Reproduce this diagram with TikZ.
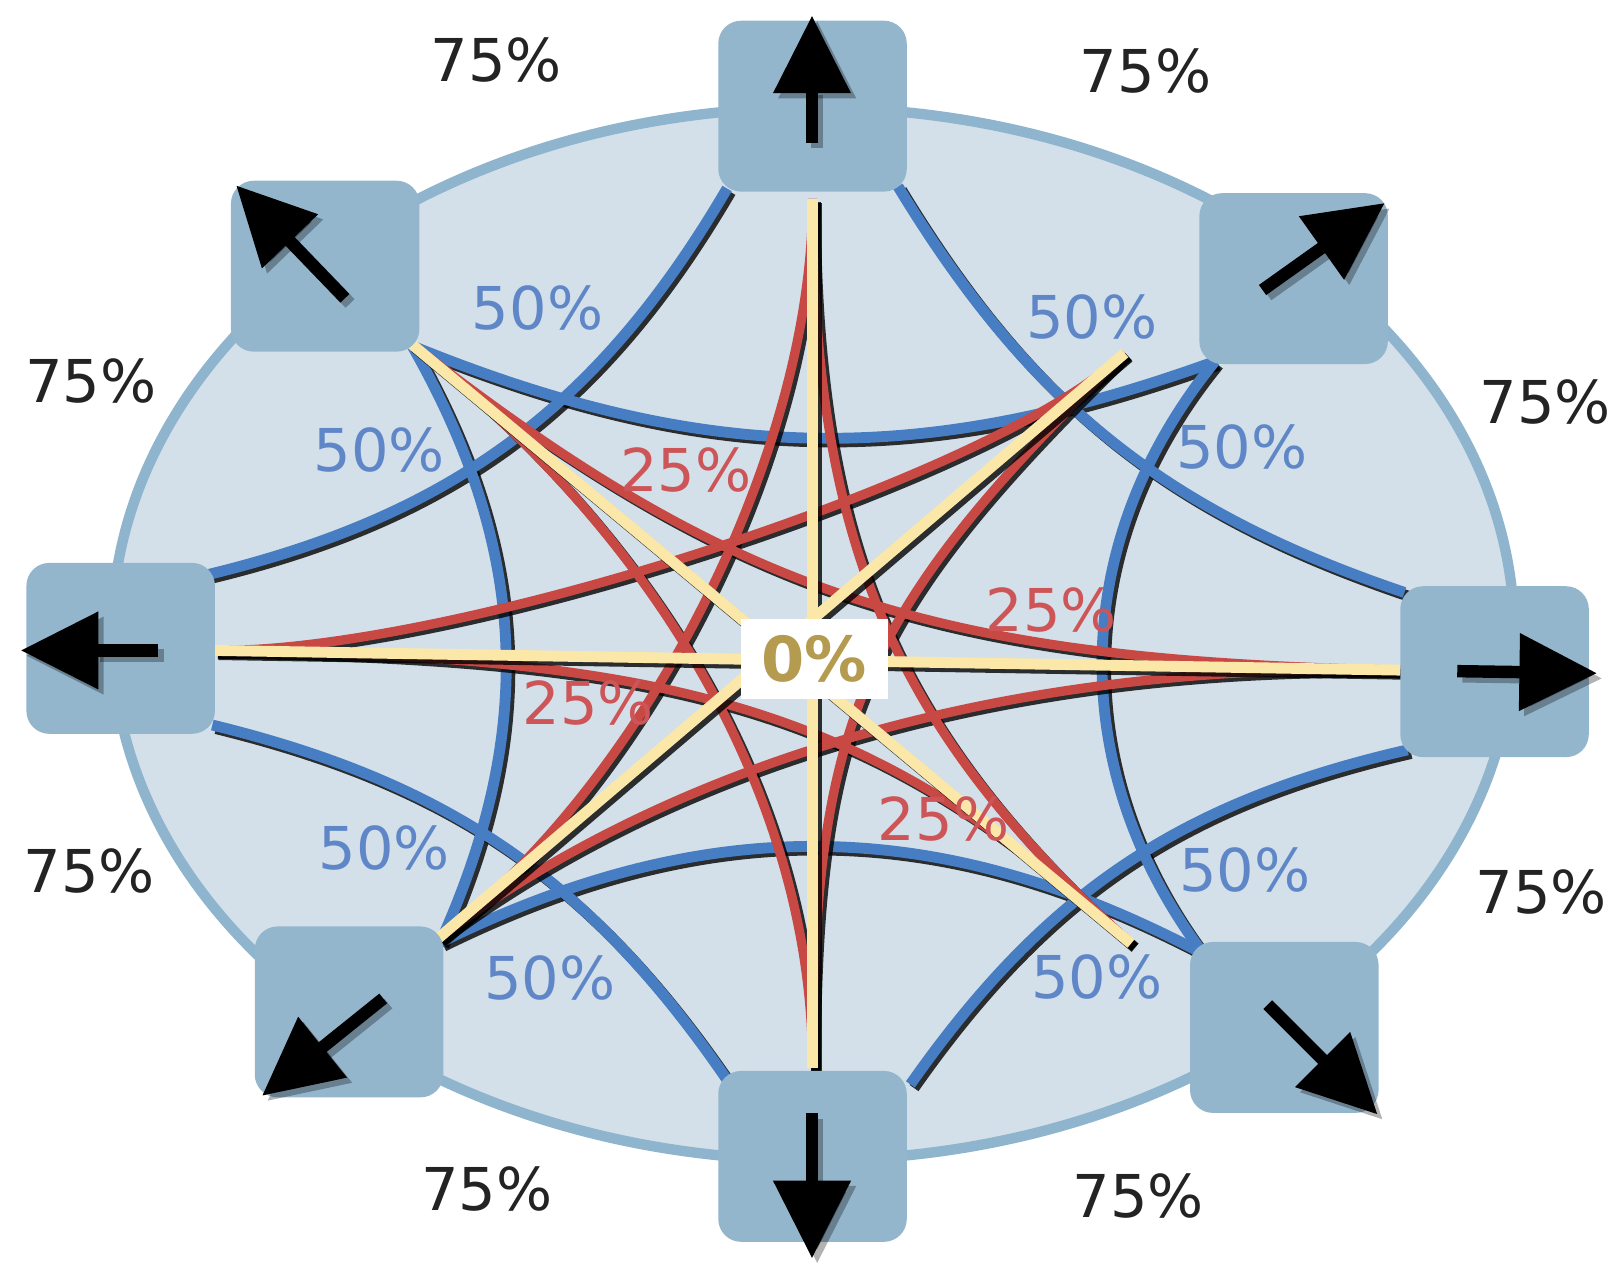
\documentclass[tikz,border=0pt]{standalone}
\usepackage{fontspec}
\setmainfont{DejaVu Sans}
\usetikzlibrary{arrows.meta,calc}
\definecolor{boxc}{RGB}{148,182,205}
\definecolor{ellfill}{RGB}{211,224,233}
\definecolor{elldraw}{RGB}{143,180,206}
\definecolor{bluec}{RGB}{70,125,195}
\definecolor{redc}{RGB}{200,72,68}
\definecolor{yelc}{RGB}{251,232,168}
\definecolor{bluetxt}{RGB}{95,135,200}
\definecolor{redtxt}{RGB}{205,85,88}
\definecolor{goldtxt}{RGB}{180,155,80}
\definecolor{darktxt}{RGB}{35,35,35}
\newcommand\bluecurves[1]{%
  \draw[#1] (bNW) to[bend right=21] (bNE);
  \draw[#1] (bNE) to[bend right=38] (bSE);
  \draw[#1] (bSE) to[bend right=27] (bSW);
  \draw[#1] (bSW) to[bend right=27] (bNW);
  \draw[#1] (bWT) to[bend right=23] (bNL);
  \draw[#1] (bNR) to[bend right=20] (bET);
  \draw[#1] (bEB) to[bend right=21] (bSR);
  \draw[#1] (bSL) to[bend right=21] (bWB);
}
\newcommand\redcurves[1]{%
  \foreach \a/\b/\t in {rN/rSE/0.75, rN/rSW/0.55, rNE/rS/0.85, rNE/rW/0.4,
                        rE/rNW/0.8, rE/rSW/0.65, rSE/rW/0.8, rS/rNW/0.63}
    \draw[#1] (\a) .. controls ($(\a)!\t!(ctr)$) and ($(\b)!\t!(ctr)$) .. (\b);
}
\newcommand\yellowspokes[1]{%
  \draw[#1] (rN) -- (rS);
  \draw[#1] (rW) -- (rE);
  \draw[#1] (rNW) -- (rSE);
  \draw[#1] (rNE) -- (rSW);
}
\begin{document}
\begin{tikzpicture}[x=1pt,y=1pt,
  shadowline/.style={draw=black, opacity=0.8},
  blueline/.style={draw=bluec, line width=10.5pt},
  redline/.style={draw=redc, line width=9pt},
  yelline/.style={draw=yelc, line width=10.5pt},
  dirbox/.style={rectangle, rounded corners=22pt, fill=boxc, minimum width=182pt, minimum height=165pt, inner sep=0pt},
  dirarrow/.style={line width=12pt, -{Triangle[length=75pt,width=72pt]}, draw=black},
  arrshadow/.style={line width=12pt, -{Triangle[length=75pt,width=72pt]}, draw=black, opacity=0.3, transform canvas={shift={(5pt,-5pt)}}},
  lbl/.style={font=\fontsize{57}{60}\selectfont, inner sep=0pt},
  lblA/.style={lbl, text=darktxt},
  lblB/.style={lbl, text=bluetxt},
  lblR/.style={lbl, text=redtxt}
]
\fill[white] (0,-1235) rectangle (1568,0);
\useasboundingbox (0,-1235) rectangle (1568,0);

% ellipse (75%)
\coordinate (ell) at (785,-612);
\filldraw[fill=ellfill, draw=elldraw, line width=10pt] (ell) ellipse [x radius=677, y radius=508];

% anchors
\coordinate (ctr) at (786,-635);
\coordinate (rN) at (784.5,-192);
\coordinate (rNE) at (1086,-341);
\coordinate (rE) at (1352,-647);
\coordinate (rSE) at (1092,-911);
\coordinate (rS) at (784.5,-1031);
\coordinate (rSW) at (423,-906);
\coordinate (rW) at (207,-628);
\coordinate (rNW) at (396.5,-331.5);

\coordinate (bNL) at (702,-182);
\coordinate (bNR) at (867,-180);
\coordinate (bNE) at (1173,-349);
\coordinate (bET) at (1356,-572);
\coordinate (bEB) at (1359,-724);
\coordinate (bSE) at (1162,-921);
\coordinate (bSR) at (879,-1047);
\coordinate (bSL) at (705,-1047);
\coordinate (bSW) at (425,-910);
\coordinate (bWB) at (205,-700);
\coordinate (bWT) at (200,-555);
\coordinate (bNW) at (398,-334);

% 50% curves
\begin{scope}[transform canvas={shift={(3.5pt,-3.5pt)}}]
  \bluecurves{shadowline, line width=10.5pt}
\end{scope}
\bluecurves{blueline}

% 25% curves
\begin{scope}[transform canvas={shift={(3.5pt,-3.5pt)}}]
  \redcurves{shadowline, line width=9pt}
\end{scope}
\redcurves{redline}

% 0% spokes
\begin{scope}[transform canvas={shift={(4pt,-4pt)}}]
  \yellowspokes{shadowline, line width=10.5pt}
\end{scope}
\yellowspokes{yelline}

% direction boxes
\node[dirbox] (boxN) at (784.5,-102.5) {};
\node[dirbox] (boxNE) at (1249,-269) {};
\node[dirbox] (boxE) at (1443,-648.5) {};
\node[dirbox] (boxSE) at (1240,-992) {};
\node[dirbox] (boxS) at (784.5,-1116.5) {};
\node[dirbox] (boxSW) at (337,-977) {};
\node[dirbox] (boxW) at (116.5,-626) {};
\node[dirbox] (boxNW) at (314,-257) {};

% arrows
\coordinate (aN1) at (784,-138);   \coordinate (aN2) at (784,-15);
\coordinate (aNE1) at (1219,-280); \coordinate (aNE2) at (1337,-196);
\coordinate (aE1) at (1407,-648);  \coordinate (aE2) at (1542,-650);
\coordinate (aSE1) at (1224,-970); \coordinate (aSE2) at (1330,-1076);
\coordinate (aS1) at (784,-1075);  \coordinate (aS2) at (784,-1215);
\coordinate (aSW1) at (370,-964);  \coordinate (aSW2) at (253,-1058);
\coordinate (aW1) at (153,-628);   \coordinate (aW2) at (20,-628);
\coordinate (aNW1) at (333,-288);  \coordinate (aNW2) at (228,-179);
\foreach \d in {N,NE,E,SE,S,SW,W,NW}{
  \draw[arrshadow] (a\d1) -- (a\d2);
  \draw[dirarrow] (a\d1) -- (a\d2);
}

% labels 75%
\node[lblA] (t75a) at (479,-58) {75\%};
\node[lblA] (t75b) at (1106,-69) {75\%};
\node[lblA] (t75c) at (87.5,-368) {75\%};
\node[lblA] (t75d) at (1492,-388) {75\%};
\node[lblA] (t75e) at (86,-841) {75\%};
\node[lblA] (t75f) at (1488,-861) {75\%};
\node[lblA] (t75g) at (470,-1148) {75\%};
\node[lblA] (t75h) at (1099,-1155) {75\%};

% labels 50%
\node[lblB] (t50a) at (519,-297) {50\%};
\node[lblB] (t50b) at (366,-434) {50\%};
\node[lblB] (t50c) at (1054,-306) {50\%};
\node[lblB] (t50d) at (1199,-432) {50\%};
\node[lblB] (t50e) at (371,-819) {50\%};
\node[lblB] (t50f) at (531,-944) {50\%};
\node[lblB] (t50g) at (1202,-840) {50\%};
\node[lblB] (t50h) at (1059,-943) {50\%};

% labels 25%
\node[lblR] (t25a) at (662,-454) {25\%};
\node[lblR] (t25b) at (1015,-589) {25\%};
\node[lblR] (t25c) at (568,-679) {25\%};
\node[lblR] (t25d) at (911,-791) {25\%};

% 0%
\node[fill=white, minimum width=142pt, minimum height=77pt, inner sep=0pt, text=goldtxt, font=\bfseries\fontsize{60}{60}\selectfont] (zero) at (786,-636) {0\%};
\end{tikzpicture}
\end{document}
